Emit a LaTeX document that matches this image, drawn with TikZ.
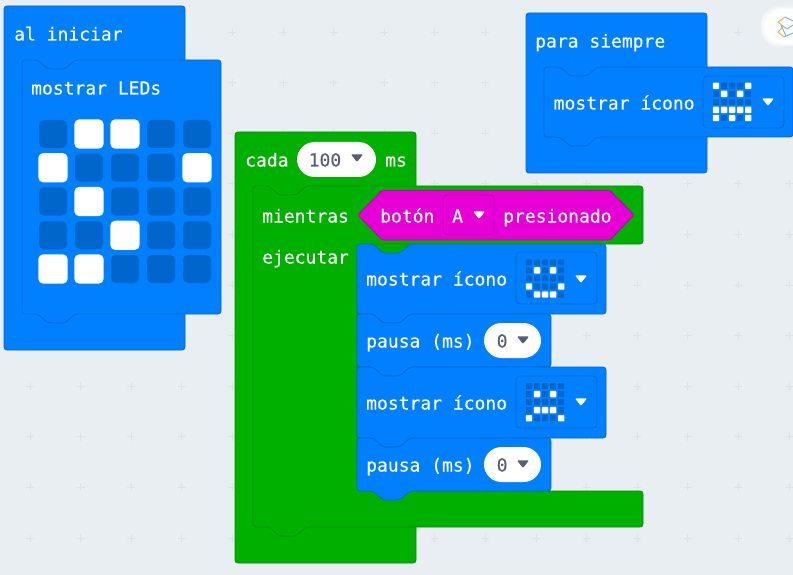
\documentclass[tikz,border=0pt]{standalone}
\usepackage{fontspec}
\newfontfamily\blockfont[FakeBold=0.25]{DejaVu Sans Mono}
\definecolor{bg}{HTML}{E9EEF2}
\definecolor{gridplus}{HTML}{DDE2E7}
\definecolor{bluefill}{HTML}{0080FF}
\definecolor{bluedark}{HTML}{0066CC}
\definecolor{greenfill}{HTML}{00B000}
\definecolor{greendark}{HTML}{008D00}
\definecolor{magfill}{HTML}{E600D6}
\definecolor{magdark}{HTML}{B800AB}
\definecolor{pilltext}{HTML}{575E75}
\tikzset{
  lbl/.style={anchor=base west,inner sep=0pt,text=white,font=\blockfont\fontsize{18}{18}\selectfont},
  pilllbl/.style={lbl,text=pilltext},
  blueblock/.style={fill=bluefill,draw=bluedark,line width=0.8pt,rounded corners=3pt},
  greenblock/.style={fill=greenfill,draw=greendark,line width=0.8pt,rounded corners=3pt},
  magblock/.style={fill=magfill,draw=magdark,line width=0.8pt,rounded corners=1.5pt},
  fieldbox/.style={draw=bluedark,line width=0.8pt,fill=bluefill,rounded corners=4pt},
  pillshape/.style={fill=white,rounded corners=17.5pt},
}
% a statement block with top and bottom notch
\newcommand{\stmt}[5]{%
  \draw[#5] (#1,{#2+10}) -- (#1,#2) -- ({#1+16},#2) -- ({#1+26},{#2+9}) -- ({#1+43},{#2+9}) -- ({#1+53},#2)
    -- (#3,#2) -- (#3,#4) -- ({#1+53},#4) -- ({#1+43},{#4+9}) -- ({#1+26},{#4+9}) -- ({#1+16},#4) -- (#1,#4) -- cycle;}
\newcommand{\ddtri}[3]{%
  \fill[#3,rounded corners=1pt] ({#1-6},{#2-3.6}) -- ({#1+6},{#2-3.6}) -- (#1,{#2+4}) -- cycle;}
% small icon: x of first column, y of first row, white cells col/row
\newcommand{\ledicon}[3]{%
  \foreach \c in {0,...,4}{\foreach \r in {0,...,4}{
    \fill[bluedark,rounded corners=0.6pt] ({#1+8.05*\c-3},{#2+8.05*\r-3}) rectangle +(6,6);}}
  \foreach \c/\r in {#3}{
    \fill[white,rounded corners=0.8pt] ({#1+8.05*(\c-1)-3.2},{#2+8.05*(\r-1)-3.2}) rectangle +(6.4,6.4);}}
\begin{document}
\begin{tikzpicture}[x=1pt,y=-1pt]
\useasboundingbox (0,0) rectangle (793,575);
\clip (0,0) rectangle (793,575);
\fill[bg] (0,0) rectangle (793,575);
% workspace grid
\foreach \i in {0,...,15}{\foreach \j in {0,...,10}{
  \draw[gridplus,line width=0.8pt] ({30+50.6*\i-4},{32+50.6*\j}) -- ++(8,0) ({30+50.6*\i},{32+50.6*\j-4}) -- ++(0,8);}}
% top right widget
\fill[black!4,rounded corners=19pt] (760.5,6.5) rectangle (830,46.5);
\fill[white!60!bg,rounded corners=18pt] (762,8) rectangle (830,45);
\fill[white!96!bg,rounded corners=18pt] (764,9) rectangle (830,44);
\draw[orange!70!white,line width=0.9pt,line join=round] (785,17) -- (778,22) -- (783,26) (783,27) -- (778,32) -- (784,37);
\draw[teal!55!white,line width=0.9pt,line join=round] (785,17) -- (793,21) (783,26) -- (787,29) -- (793,25) (784,37) -- (793,33) (781,25) -- (786,36);
% ---------- al iniciar
\draw[blueblock] (4,6) rectangle (185,350);
\stmt{22}{60}{221}{314}{blueblock}
\node[lbl] (aliniciar) at (14,40.5) {al iniciar};
\node[lbl] (leds) at (31,94.5) {mostrar LEDs};
\foreach \c in {0,...,4}{\foreach \r in {0,...,4}{
  \fill[bluedark,rounded corners=5pt] ({53+36*\c-14},{134+33.75*\r-14}) rectangle +(28,28);}}
\foreach \c/\r in {1/0,2/0,0/1,4/1,1/2,2/3,0/4,1/4}{
  \fill[white,rounded corners=5pt] ({53+36*\c-14.7},{134+33.75*\r-14.7}) rectangle +(29.4,29.4);}
% ---------- para siempre
\draw[blueblock] (526,13) rectangle (707,173);
\stmt{544}{67}{793}{137}{blueblock}
\node[lbl] (parasiempre) at (535,47.5) {para siempre};
\node[lbl] (iconA) at (553.5,109.5) {mostrar ícono};
\draw[fieldbox] (703,76) rectangle (784,128);
\ledicon{716}{85.8}{1/1,5/1,2/2,4/2,1/4,2/4,3/4,4/4,5/4,1/5,3/5,5/5}
\ddtri{768}{102}{white}
% ---------- cada
\draw[greenblock] (235,132) rectangle (416,563);
\node[lbl] (cada) at (245,166.5) {cada};
\fill[pillshape] (297,142) rectangle (376,177);
\node[pilllbl] (cien) at (308.5,166.5) {100};
\ddtri{357}{158}{pilltext}
\node[lbl] (ms) at (385,166.5) {ms};
% ---------- mientras
\draw[greenblock] (253,196) -- (253,186) -- (269,186) -- (279,195) -- (296,195) -- (306,186)
  -- (643,186) -- (643,244) -- (357,244) -- (357,491) -- (643,491) -- (643,527)
  -- (306,527) -- (296,536) -- (279,536) -- (269,527) -- (253,527) -- cycle;
\node[lbl] (mientras) at (262,222.5) {mientras};
\node[lbl] (ejecutar) at (262,263.5) {ejecutar};
% boolean block
\draw[magblock] (358,215) -- (382,190.5) -- (610,190.5) -- (634,215) -- (610,240) -- (382,240) -- cycle;
\node[lbl] (boton) at (380,222.5) {botón};
\draw[draw=magdark,line width=0.8pt,fill=magfill,rounded corners=4pt] (443,195) rectangle (494,234);
\node[lbl] (letraA) at (452,222.5) {A};
\ddtri{479}{215}{white}
\node[lbl] (presionado) at (503,222.5) {presionado};
% ---------- inner stack
\stmt{357}{244}{606}{314}{blueblock}
\stmt{357}{314}{551}{367}{blueblock}
\stmt{357}{367}{606}{438}{blueblock}
\stmt{357}{438}{551}{491}{blueblock}
\node[lbl] (iconB) at (366,285.5) {mostrar ícono};
\draw[fieldbox] (516,252) rectangle (597,304);
\ledicon{529}{262.3}{2/2,4/2,1/4,5/4,2/5,3/5,4/5}
\ddtri{581}{279}{white}
\node[lbl] (pausaA) at (366,347.5) {pausa (ms)};
\fill[pillshape] (484,323) rectangle (541,358);
\node[pilllbl] (ceroA) at (496.5,347.5) {0};
\ddtri{523}{340}{pilltext}
\node[lbl] (iconC) at (366,409.5) {mostrar ícono};
\draw[fieldbox] (516,376) rectangle (597,428);
\ledicon{529}{386}{2/2,4/2,2/4,3/4,4/4,1/5,5/5}
\ddtri{581}{402}{white}
\node[lbl] (pausaB) at (366,471.5) {pausa (ms)};
\fill[pillshape] (484,447) rectangle (541,482);
\node[pilllbl] (ceroB) at (496.5,471.5) {0};
\ddtri{523}{464}{pilltext}
\end{tikzpicture}
\end{document}
